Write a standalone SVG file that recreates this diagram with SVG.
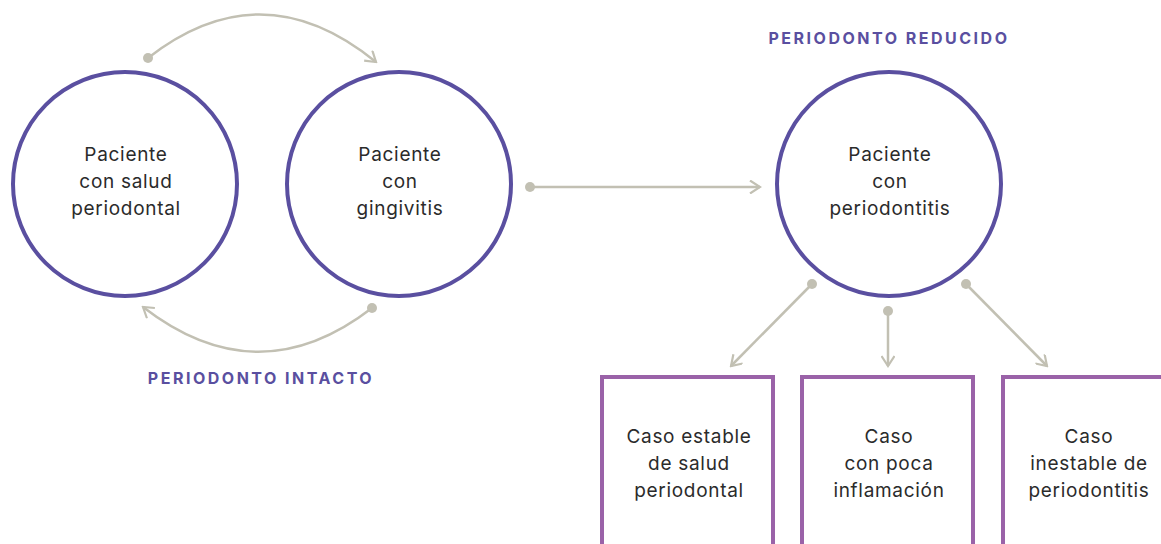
<svg xmlns="http://www.w3.org/2000/svg" width="1161" height="544" viewBox="0 0 1161 544">
<defs>
<style>
.circ{fill:#fff;stroke:#5a4fa0;stroke-width:4}
.box{fill:#fff;stroke:#9a62a8;stroke-width:4}
.txt{font-family:Inter,"Liberation Sans",sans-serif;font-size:19px;fill:#2b2b2b;text-anchor:middle;letter-spacing:0.7px}
.lbl{font-family:Inter,"Liberation Sans",sans-serif;font-size:16px;font-weight:700;fill:#5a4fa0;text-anchor:middle;letter-spacing:2.5px}
.con{fill:none;stroke:#c2c0b3;stroke-width:2.5}
.dot{fill:#c2c0b3}
</style>
<marker id="arr" viewBox="0 0 14 14" refX="12" refY="7" markerWidth="14" markerHeight="14" markerUnits="userSpaceOnUse" orient="auto">
<path d="M2,0.5 L12,7 L2,13.5" fill="none" stroke="#c2c0b3" stroke-width="2.2"/>
</marker>
</defs>
<rect width="1161" height="544" fill="#fff"/>
<g id="connectors">
<path class="con" d="M148,58 Q262,-31 376,62" marker-end="url(#arr)"/>
<circle class="dot" cx="148" cy="58" r="5"/>
<path class="con" d="M372,308 Q258,396 143,307" marker-end="url(#arr)"/>
<circle class="dot" cx="372" cy="308" r="5"/>
<path class="con" d="M530,187 L760,187" marker-end="url(#arr)"/>
<circle class="dot" cx="530" cy="187" r="5"/>
<path class="con" d="M812,284 L731,366" marker-end="url(#arr)"/>
<circle class="dot" cx="812" cy="284" r="5"/>
<path class="con" d="M888,311 L888,366" marker-end="url(#arr)"/>
<circle class="dot" cx="888" cy="311" r="5"/>
<path class="con" d="M966,284 L1047,366" marker-end="url(#arr)"/>
<circle class="dot" cx="966" cy="284" r="5"/>
</g>
<g id="n-salud">
<circle class="circ" cx="125" cy="184" r="112"/>
<text class="txt" x="126" y="161">Paciente</text>
<text class="txt" x="126" y="188">con salud</text>
<text class="txt" x="126" y="215">periodontal</text>
</g>
<g id="n-gingivitis">
<circle class="circ" cx="399" cy="184" r="112"/>
<text class="txt" x="400" y="161">Paciente</text>
<text class="txt" x="400" y="188">con</text>
<text class="txt" x="400" y="215">gingivitis</text>
</g>
<g id="n-periodontitis">
<circle class="circ" cx="889" cy="184" r="112"/>
<text class="txt" x="890" y="161">Paciente</text>
<text class="txt" x="890" y="188">con</text>
<text class="txt" x="890" y="215">periodontitis</text>
</g>
<g id="lbl-reducido">
<text class="lbl" x="889" y="44">PERIODONTO REDUCIDO</text>
</g>
<g id="lbl-intacto">
<text class="lbl" x="261" y="384">PERIODONTO INTACTO</text>
</g>
<g id="b-estable">
<rect class="box" x="602" y="377" width="171" height="180"/>
<text class="txt" x="689" y="443">Caso estable</text>
<text class="txt" x="689" y="470">de salud</text>
<text class="txt" x="689" y="497">periodontal</text>
</g>
<g id="b-poca">
<rect class="box" x="802" y="377" width="171" height="180"/>
<text class="txt" x="889" y="443">Caso</text>
<text class="txt" x="889" y="470">con poca</text>
<text class="txt" x="889" y="497">inflamación</text>
</g>
<g id="b-inestable">
<rect class="box" x="1003" y="377" width="171" height="180"/>
<text class="txt" x="1089" y="443">Caso</text>
<text class="txt" x="1089" y="470">inestable de</text>
<text class="txt" x="1089" y="497">periodontitis</text>
</g>
</svg>
